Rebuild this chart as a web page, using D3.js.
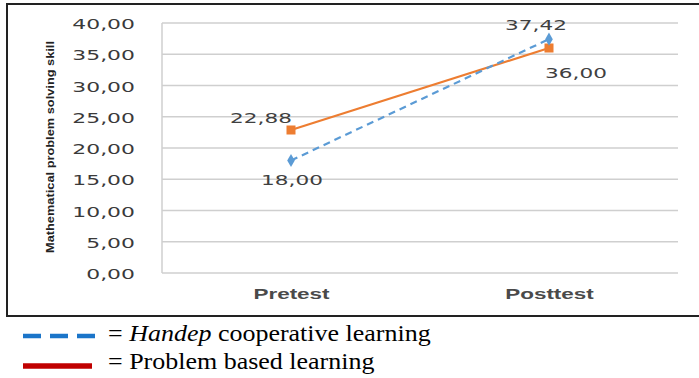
<!DOCTYPE html>
<html><head><meta charset="utf-8">
<script src="https://cdn.jsdelivr.net/npm/d3@7"></script>
<style>body{margin:0;background:#fff}</style>
</head><body>
<svg id="c" width="699" height="378"></svg>
<script>
const categories = ["Pretest", "Posttest"];
const handep = [18.00, 37.42];
const pbl = [22.88, 36.00];
const yTicks = [0, 5, 10, 15, 20, 25, 30, 35, 40];
const yTitle = "Mathematical problem solving skill";
const legendLabels = [["Handep", " cooperative learning"], ["", "Problem based learning"]];

(function () {
const svg = d3.select("#c");
const fmt = v => d3.format(".2f")(v).replace(".", ",");
const SX = 1.6;

svg.append("rect").attr("x", 7).attr("y", 4).attr("width", 720).attr("height", 312)
  .attr("fill", "#fff").attr("stroke", "#222").attr("stroke-width", 2);

const pL = 162, pR = 678, pT = 23, pB = 273;
const x = d3.scalePoint().domain(categories).range([pL, pR]).padding(0.5);
const y = d3.scaleLinear().domain([0, 40]).range([pB, pT]);

svg.append("g").selectAll("line").data(yTicks).join("line")
  .attr("x1", pL).attr("x2", pR).attr("y1", d => y(d)).attr("y2", d => y(d))
  .attr("stroke", "#cfcfcf").attr("stroke-width", 1.5);
svg.append("line").attr("x1", pL).attr("x2", pL).attr("y1", pT).attr("y2", pB)
  .attr("stroke", "#cfcfcf").attr("stroke-width", 1.5);

const ya = svg.append("g").attr("transform", `translate(${pL},0)`)
  .call(d3.axisLeft(y).tickValues(yTicks).tickFormat(fmt).tickSize(0));
ya.select(".domain").remove();
ya.selectAll("text").attr("x", 0).attr("dy", null).attr("text-anchor", "end")
  .attr("transform", `translate(-27,5.5) scale(${SX},1)`)
  .attr("font-family", "DejaVu Sans, Verdana, sans-serif").attr("font-size", 13.7).attr("fill", "#3a3a3a");

const xa = svg.append("g").attr("transform", `translate(0,${pB})`)
  .call(d3.axisBottom(x).tickSize(0));
xa.select(".domain").remove();
xa.selectAll("text").attr("y", 0).attr("dy", null)
  .attr("transform", `translate(0,26) scale(1.55,1)`)
  .attr("font-family", "Liberation Sans, Arial, sans-serif").attr("font-weight", "bold")
  .attr("font-size", 14.5).attr("fill", "#4a4a4a");

svg.append("text").attr("transform", `translate(54,${(pT + pB) / 2 - 1}) rotate(-90)`)
  .attr("text-anchor", "middle").attr("font-family", "Liberation Sans Narrow, Liberation Sans, Arial, sans-serif")
  .attr("font-weight", "bold").attr("font-size", 11).attr("fill", "#222")
  .attr("textLength", 212).attr("lengthAdjust", "spacingAndGlyphs").text(yTitle);

const line = d3.line().x((d, i) => x(categories[i])).y(d => y(d));
svg.append("path").datum(pbl).attr("d", line).attr("fill", "none")
  .attr("stroke", "#ED7D31").attr("stroke-width", 2.2);
svg.append("path").datum(handep).attr("d", line).attr("fill", "none")
  .attr("stroke", "#5B9BD5").attr("stroke-width", 2.2).attr("stroke-dasharray", "7,5");
svg.append("g").selectAll("rect").data(pbl).join("rect")
  .attr("x", (d, i) => x(categories[i]) - 4.5).attr("y", d => y(d) - 4.5)
  .attr("width", 9).attr("height", 9).attr("fill", "#ED7D31");
svg.append("g").selectAll("path").data(handep).join("path")
  .attr("transform", (d, i) => `translate(${x(categories[i])},${y(d)})`)
  .attr("d", d3.symbol(d3.symbolDiamond, 50)).attr("fill", "#5B9BD5");

const lbls = [
  {v: pbl[0], i: 0, dx: -30, dy: -7},
  {v: handep[0], i: 0, dx: 1, dy: 24},
  {v: handep[1], i: 1, dx: -13, dy: -9.5},
  {v: pbl[1], i: 1, dx: 27, dy: 30}
];
svg.append("g").selectAll("text").data(lbls).join("text")
  .attr("transform", d => `translate(${x(categories[d.i]) + d.dx},${y(d.v) + d.dy}) scale(${SX},1)`)
  .attr("font-family", "DejaVu Sans, Verdana, sans-serif").attr("font-size", 13.5)
  .attr("fill", "#404040").attr("text-anchor", "middle")
  .text(d => fmt(d.v));

const lg = svg.append("g");
lg.append("line").attr("x1", 23).attr("x2", 96).attr("y1", 336).attr("y2", 336)
  .attr("stroke", "#1B75C9").attr("stroke-width", 4.5).attr("stroke-dasharray", "18,9");
lg.append("line").attr("x1", 23).attr("x2", 92).attr("y1", 366).attr("y2", 366)
  .attr("stroke", "#C00000").attr("stroke-width", 5.5);
const t1 = lg.append("text").attr("transform", "translate(108,341) scale(1.13,1)")
  .attr("font-family", "Liberation Serif, Times New Roman, serif")
  .attr("font-size", 23).attr("fill", "#000");
t1.append("tspan").text("= ");
t1.append("tspan").attr("font-style", "italic").text(legendLabels[0][0]);
t1.append("tspan").text(legendLabels[0][1]);
lg.append("text").attr("transform", "translate(108,369) scale(1.13,1)")
  .attr("font-family", "Liberation Serif, Times New Roman, serif")
  .attr("font-size", 23).attr("fill", "#000").text("= " + legendLabels[1][1]);
})();
</script>
</body></html>
